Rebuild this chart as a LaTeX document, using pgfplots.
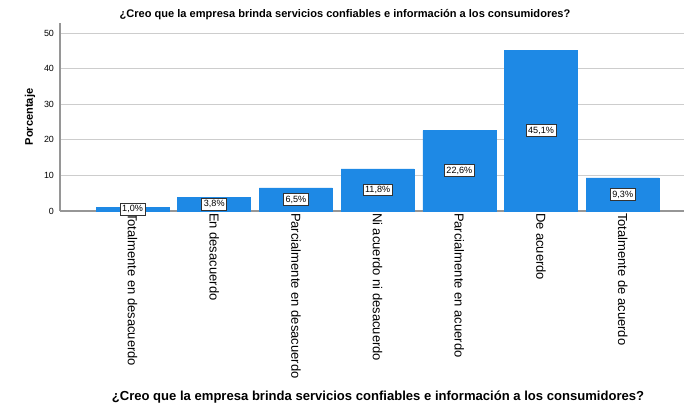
\documentclass[border=0pt]{standalone}
\usepackage{pgfplots}
\pgfplotsset{compat=1.18}
\usepackage{fontspec}
\setmainfont{Liberation Sans}
\definecolor{barblue}{RGB}{30,137,229}
\definecolor{gridgray}{RGB}{205,205,205}
\definecolor{axisgray}{RGB}{150,150,150}
\begin{document}
\begin{tikzpicture}[x=0.75pt,y=0.75pt]
\useasboundingbox (0,0) rectangle (686,407);
\node[font=\fontsize{8.3}{10}\selectfont\bfseries] at (345,392) {¿Creo que la empresa brinda servicios confiables e información a los consumidores?};
\node[font=\fontsize{9.8}{11}\selectfont\bfseries] at (378,10) {¿Creo que la empresa brinda servicios confiables e información a los consumidores?};
\begin{axis}[
  at={(45pt,147pt)}, anchor=south west,
  scale only axis, width=468pt, height=141pt,
  xmin=-0.888, xmax=6.75, ymin=0, ymax=52.8,
  axis lines*=left,
  axis line style={axisgray, line width=0.8pt},
  ytick={0,10,20,30,40,50},
  ymajorgrids, grid style={gridgray, line width=0.7pt},
  major tick length=0pt,
  xtick={0,1,2,3,4,5,6},
  xticklabels={Totalmente en desacuerdo,En desacuerdo,Parcialmente en desacuerdo,Ni acuerdo ni desacuerdo,Parcialmente en acuerdo,De acuerdo,Totalmente de acuerdo},
  xticklabel style={rotate=-90, anchor=west, font=\fontsize{9.75}{11}\selectfont, xshift=-2pt},
  yticklabel style={font=\fontsize{6.7}{8}\selectfont, xshift=-1pt},
  /pgf/number format/assume math mode=true,
  ylabel={Porcentaje},
  ylabel style={at={(axis description cs:-0.048,0.5)}, anchor=center, font=\fontsize{8.3}{10}\selectfont\bfseries},
  clip=false,
]
\addplot[ybar, bar width=54.75pt, fill=barblue, draw=barblue,
  point meta=explicit symbolic,
  visualization depends on={rawy \as \rawy},
  nodes near coords,
  every node near coord/.append style={anchor=center, yshift={-\rawy*1.3352pt},
    fill=white, draw=black!80, line width=0.6pt, inner sep=1.6pt,
    font=\fontsize{6.8}{7.5}\selectfont},
] coordinates {
  (0,1.0) [1,0\%]
  (1,3.8) [3,8\%]
  (2,6.5) [6,5\%]
  (3,11.8) [11,8\%]
  (4,22.6) [22,6\%]
  (5,45.1) [45,1\%]
  (6,9.3) [9,3\%]
};
\end{axis}
\end{tikzpicture}
\end{document}
